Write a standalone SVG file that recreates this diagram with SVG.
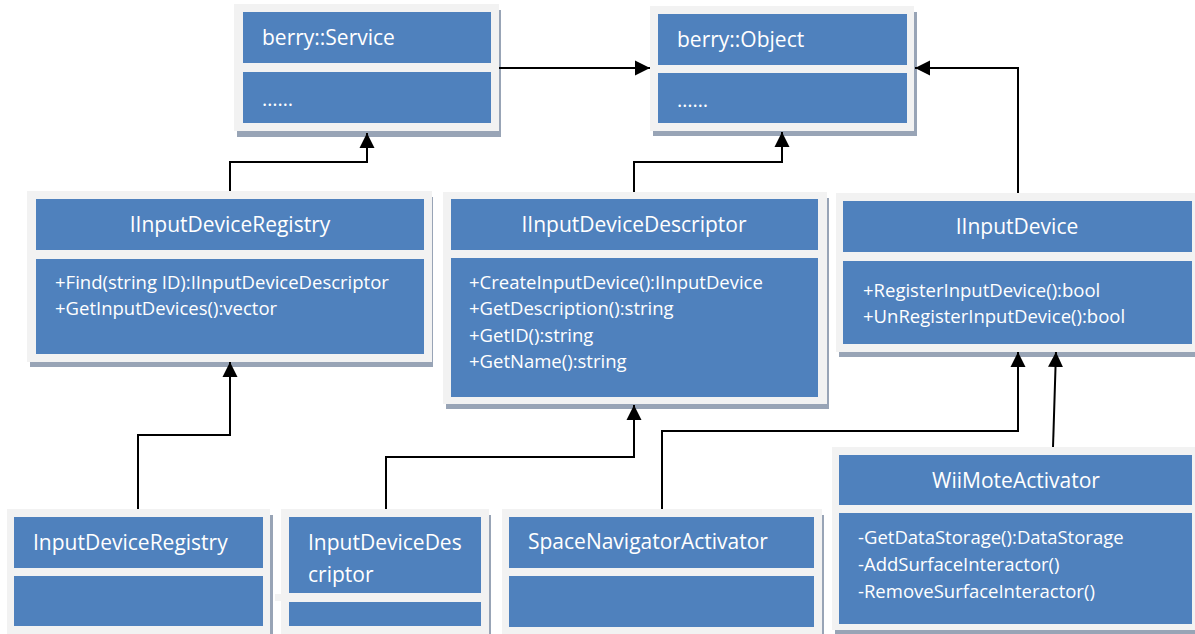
<svg xmlns="http://www.w3.org/2000/svg" width="1195" height="634" viewBox="0 0 1195 634">
<style>
.frame{fill:#f2f2f2}
.shadow{fill:#98a4b6}
.box{fill:#4f81bd}
.t{font-family:"Open Sans","Liberation Sans",sans-serif;fill:#ffffff}
.ttl{font-size:21px}
.big{font-size:21px}
.dots{font-size:20px}
.m{font-size:18.5px}
.c{text-anchor:middle}
.conn{fill:none;stroke:#000000;stroke-width:2;marker-end:url(#arr)}
</style>
<defs>
<marker id="arr" markerUnits="userSpaceOnUse" markerWidth="16" markerHeight="16" refX="15" refY="8" orient="auto">
<path d="M0,0.5 L15,8 L0,15.5 Z" fill="#000000"/>
</marker>
</defs>
<rect width="1195" height="634" fill="#ffffff"/>

<g id="berry-service">
<rect class="shadow" x="237" y="10" width="264" height="127"/>
<rect class="frame" x="234" y="4" width="265" height="127"/>
<rect class="box" x="243" y="12" width="248" height="51"/>
<rect class="box" x="243" y="72" width="248" height="51"/>
<text class="t big" x="262" y="45">berry::Service</text>
<text class="t dots" x="262" y="106">……</text>
</g>

<g id="berry-object">
<rect class="shadow" x="653" y="12" width="264" height="124"/>
<rect class="frame" x="650" y="6" width="264" height="125"/>
<rect class="box" x="658" y="14" width="249" height="51"/>
<rect class="box" x="658" y="73" width="249" height="50"/>
<text class="t big" x="677" y="47">berry::Object</text>
<text class="t dots" x="677" y="107">……</text>
</g>

<g id="iinputdeviceregistry">
<rect class="shadow" x="30" y="197" width="403" height="170"/>
<rect class="frame" x="27" y="191" width="405" height="171"/>
<rect class="box" x="36" y="199" width="388" height="51"/>
<rect class="box" x="36" y="259" width="388" height="95"/>
<text class="t ttl c" x="230" y="232">IInputDeviceRegistry</text>
<text class="t m" x="55" y="289">+Find(string ID):IInputDeviceDescriptor</text>
<text class="t m" x="55" y="315">+GetInputDevices():vector</text>
</g>

<g id="iinputdevicedescriptor">
<rect class="shadow" x="446" y="198" width="383" height="211"/>
<rect class="frame" x="443" y="192" width="384" height="212"/>
<rect class="box" x="451" y="199" width="367" height="51"/>
<rect class="box" x="451" y="258" width="367" height="139"/>
<text class="t ttl c" x="634" y="232">IInputDeviceDescriptor</text>
<text class="t m" x="469" y="289">+CreateInputDevice():IInputDevice</text>
<text class="t m" x="469" y="315">+GetDescription():string</text>
<text class="t m" x="469" y="342">+GetID():string</text>
<text class="t m" x="469" y="368">+GetName():string</text>
</g>

<g id="iinputdevice">
<rect class="shadow" x="839" y="199" width="360" height="158"/>
<rect class="frame" x="836" y="193" width="362" height="159"/>
<rect class="box" x="843" y="201" width="349" height="51"/>
<rect class="box" x="843" y="261" width="349" height="83"/>
<text class="t ttl c" x="1017" y="234">IInputDevice</text>
<text class="t m" x="863" y="297">+RegisterInputDevice():bool</text>
<text class="t m" x="863" y="323">+UnRegisterInputDevice():bool</text>
</g>

<g id="inputdeviceregistry">
<rect class="shadow" x="10" y="515" width="263" height="125"/>
<rect class="frame" x="7" y="509" width="263" height="125"/>
<rect class="box" x="14" y="517" width="249" height="51"/>
<rect class="box" x="14" y="576" width="249" height="50"/>
<text class="t ttl" x="33" y="550">InputDeviceRegistry</text>
</g>

<g id="inputdevicedescriptor">
<rect class="frame" x="275" y="594" width="8" height="7"/>
<rect class="shadow" x="284" y="515" width="207" height="125"/>
<rect class="frame" x="281" y="509" width="208" height="125"/>
<rect class="box" x="289" y="517" width="192" height="76"/>
<rect class="box" x="289" y="602" width="192" height="24"/>
<text class="t ttl" x="308" y="550">InputDeviceDes</text>
<text class="t ttl" x="308" y="582">criptor</text>
</g>

<g id="spacenavigatoractivator">
<rect class="shadow" x="505" y="515" width="319" height="125"/>
<rect class="frame" x="502" y="509" width="320" height="125"/>
<rect class="box" x="509" y="517" width="305" height="51"/>
<rect class="box" x="509" y="576" width="305" height="51"/>
<text class="t ttl" x="528" y="549">SpaceNavigatorActivator</text>
</g>

<g id="wiimoteactivator">
<rect class="shadow" x="835" y="453" width="362" height="181"/>
<rect class="frame" x="832" y="447" width="363" height="183"/>
<rect class="box" x="839" y="455" width="353" height="50"/>
<rect class="box" x="839" y="513" width="353" height="111"/>
<text class="t ttl c" x="1016" y="488">WiiMoteActivator</text>
<text class="t m" x="858" y="544">-GetDataStorage():DataStorage</text>
<text class="t m" x="858" y="571">-AddSurfaceInteractor()</text>
<text class="t m" x="858" y="598">-RemoveSurfaceInteractor()</text>
</g>

<g id="connectors">
<path class="conn" d="M499,68 L650,68"/>
<path class="conn" d="M1018,193 L1018,68 L915,68"/>
<path class="conn" d="M634,192 L634,162 L782,162 L782,132"/>
<path class="conn" d="M230,191 L230,162 L367,162 L367,133"/>
<path class="conn" d="M138,509 L138,435 L230,435 L230,362"/>
<path class="conn" d="M386,509 L386,457 L634,457 L634,405"/>
<path class="conn" d="M662,509 L662,431 L1018,431 L1018,352"/>
<path class="conn" d="M1053,447 L1056,352"/>
</g>
</svg>
